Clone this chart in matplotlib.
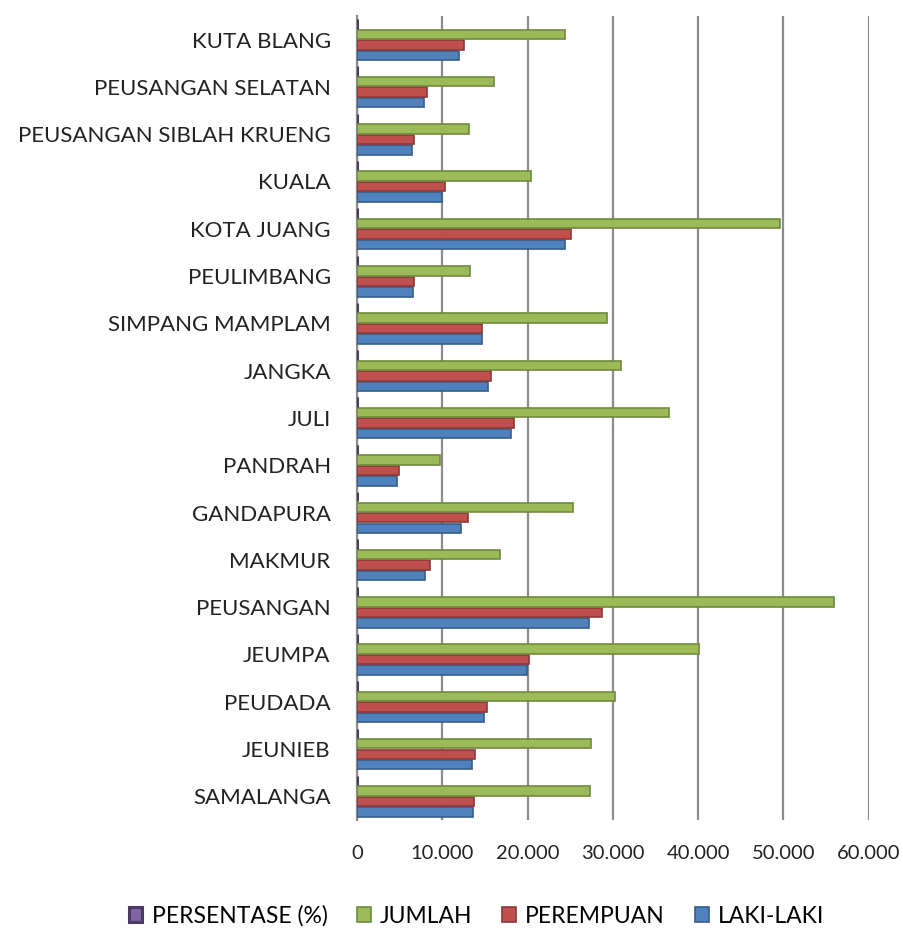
import numpy as np
import matplotlib
matplotlib.use("Agg")
import matplotlib.pyplot as plt
from matplotlib.ticker import FuncFormatter

plt.rcParams['font.family'] = ['Lato', 'DejaVu Sans']

# categories listed bottom -> top, as drawn
kecamatan = ["SAMALANGA", "JEUNIEB", "PEUDADA", "JEUMPA", "PEUSANGAN", "MAKMUR",
             "GANDAPURA", "PANDRAH", "JULI", "JANGKA", "SIMPANG MAMPLAM",
             "PEULIMBANG", "KOTA JUANG", "KUALA", "PEUSANGAN SIBLAH KRUENG",
             "PEUSANGAN SELATAN", "KUTA BLANG"]

laki_laki = [13600, 13500, 14900, 19900, 27200, 8000, 12200, 4700, 18100, 15300,
             14600, 6500, 24400, 10000, 6400, 7800, 12000]
perempuan = [13700, 13800, 15200, 20200, 28700, 8600, 13000, 4900, 18400, 15700,
             14600, 6700, 25100, 10300, 6700, 8150, 12500]
jumlah = [27300, 27400, 30200, 40100, 55900, 16800, 25300, 9700, 36600, 31000,
          29300, 13300, 49600, 20400, 13100, 16000, 24400]
persentase = [5.9, 5.9, 6.5, 8.6, 12.0, 3.6, 5.4, 2.1, 7.8, 6.6,
              6.3, 2.9, 10.6, 4.4, 2.8, 3.4, 5.2]

ticks = [0, 10000, 20000, 30000, 40000, 50000, 60000]

fig = plt.figure(figsize=(9.04, 9.36), dpi=100)
ax = fig.add_axes([0.395, 0.124, 0.566, 0.859])

y = np.arange(len(kecamatan))
step = 0.222
h = 0.2

series = [
    (laki_laki, -1.5, "#4F81BD", "#385D8A", "LAKI-LAKI", 1.2),
    (perempuan, -0.5, "#C0504D", "#8C3836", "PEREMPUAN", 1.2),
    (jumlah, 0.5, "#9BBB59", "#71893F", "JUMLAH", 1.2),
    (persentase, 1.5, "#8064A2", "#4B3A63", "PERSENTASE (%)", 2.2),
]

for vals, off, fc, ec, lab, lw in series:
    ax.barh(y + off * step, vals, height=h, color=fc, edgecolor=ec,
            linewidth=lw, label=lab, zorder=3)

ax.set_xlim(0, 60000)
ax.set_ylim(-0.5, len(kecamatan) - 0.5)
ax.set_xticks(ticks)
ax.xaxis.set_major_formatter(FuncFormatter(
    lambda v, p: "0" if v == 0 else f"{int(v):,}".replace(",", ".")))
ax.set_yticks(y)
ax.set_yticklabels(kecamatan)
ax.tick_params(axis='both', length=0, colors="#222222")
ax.tick_params(axis='y', labelsize=16, pad=19)
ax.tick_params(axis='x', labelsize=14.5, pad=18)

ax.grid(axis='x', color="#8c8c8c", linewidth=1.6, zorder=0)
for s in ["top", "right", "bottom"]:
    ax.spines[s].set_visible(False)
ax.spines["left"].set_color("#8c8c8c")
ax.spines["left"].set_linewidth(1.6)

handles, labels = ax.get_legend_handles_labels()
fig.legend(handles[::-1], labels[::-1], loc="lower center", ncol=4,
           frameon=False, fontsize=16.5, bbox_to_anchor=(0.527, -0.012),
           handlelength=0.6, handleheight=0.6, handletextpad=0.4,
           columnspacing=1.3)

fig.savefig("out.png", dpi=100)
